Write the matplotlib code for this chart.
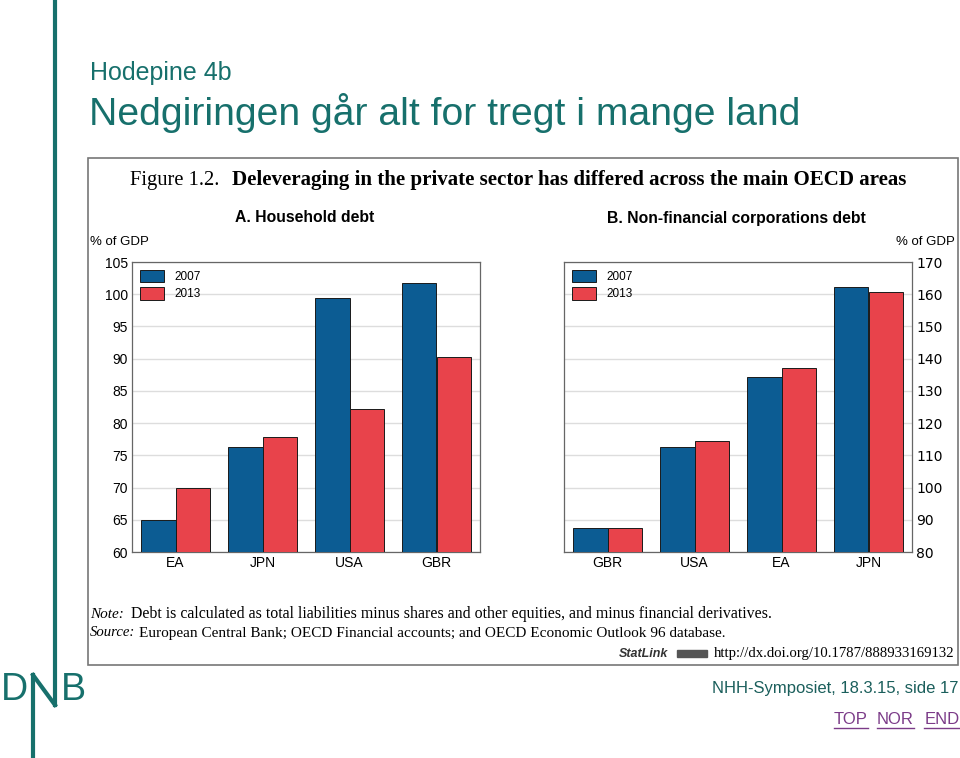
import numpy as np
import matplotlib
matplotlib.use("Agg")
import matplotlib.pyplot as plt
from matplotlib.lines import Line2D
from matplotlib.patches import Rectangle

# data
years = ["2007", "2013"]
hh_countries = ["EA", "JPN", "USA", "GBR"]
hh_2007 = [64.9, 76.3, 99.4, 101.8]
hh_2013 = [69.9, 77.9, 82.2, 90.2]
nfc_countries = ["GBR", "USA", "EA", "JPN"]
nfc_2007 = [87.3, 112.6, 134.4, 162.2]
nfc_2013 = [87.3, 114.3, 137.1, 160.8]
hh_ticks = [60, 65, 70, 75, 80, 85, 90, 95, 100, 105]
nfc_ticks = [80, 90, 100, 110, 120, 130, 140, 150, 160, 170]

W, H = 960, 758
BLUE = "#0c5c93"
RED = "#e8434b"
TEAL = "#17706c"
SANS = ["Liberation Sans", "DejaVu Sans"]
SERIF = ["Liberation Serif", "DejaVu Serif"]


def fx(x):
    return x / W


def fy(y):
    return 1 - y / H


fig = plt.figure(figsize=(W / 100, H / 100), dpi=100)

# slide header
fig.text(fx(90), fy(73), "Hodepine 4b", fontsize=18, color=TEAL,
         family=SANS, va="center", ha="left")
fig.text(fx(89), fy(113), "Nedgiringen går alt for tregt i mange land",
         fontsize=28.2, color=TEAL, family=SANS, va="center", ha="left")

# vertical teal rule and DNB logo
fig.add_artist(Line2D([fx(55), fx(55)], [fy(0), fy(705)], color=TEAL, lw=3))
fig.add_artist(Line2D([fx(33), fx(33)], [fy(675), fy(758)], color=TEAL, lw=3))
fig.add_artist(Line2D([fx(33), fx(55)], [fy(675), fy(705)], color=TEAL, lw=3))
fig.text(fx(14), fy(690), "D", fontsize=27, color=TEAL, family=SANS,
         ha="center", va="center")
fig.text(fx(73), fy(690), "B", fontsize=27, color=TEAL, family=SANS,
         ha="center", va="center")

# picture frame
fig.add_artist(Rectangle((fx(88), fy(665)), fx(958) - fx(88), fy(158) - fy(665),
                         fill=False, edgecolor="#777777", lw=1.2))

fig.text(fx(130), fy(180), "Figure 1.2.", fontsize=14.8, family=SERIF,
         va="center", ha="left")
fig.text(fx(232), fy(180),
         "Deleveraging in the private sector has differed across the main OECD areas",
         fontsize=15.1, family=SERIF, fontweight="bold", va="center", ha="left")

fig.text(fx(305), fy(218), "A. Household debt", fontsize=11.3, family=SANS,
         fontweight="bold", va="center", ha="center")
fig.text(fx(736), fy(218), "B. Non-financial corporations debt", fontsize=11.3,
         family=SANS, fontweight="bold", va="center", ha="center")
fig.text(fx(90), fy(242), "% of GDP", fontsize=9.5, family=SANS,
         va="center", ha="left")
fig.text(fx(955), fy(242), "% of GDP", fontsize=9.5, family=SANS,
         va="center", ha="right")


def panel(rect, cats, v07, v13, ticks, right=False):
    ax = fig.add_axes(rect)
    x = np.arange(len(cats))
    w = 0.4
    ax.bar(x - w / 2, v07, w, color=BLUE, edgecolor="#1a1a1a", lw=0.7,
           label=years[0], zorder=3)
    ax.bar(x + w / 2, v13, w, color=RED, edgecolor="#1a1a1a", lw=0.7,
           label=years[1], zorder=3)
    ax.set_xlim(-0.5, len(cats) - 0.5)
    ax.set_ylim(ticks[0], ticks[-1])
    ax.set_yticks(ticks)
    ax.set_xticks(x)
    ax.set_xticklabels(cats)
    ax.grid(axis="y", color="#dddddd", lw=1, zorder=0)
    for s in ax.spines.values():
        s.set_color("#666666")
        s.set_linewidth(0.9)
    ax.tick_params(length=0, labelsize=10, pad=3)
    for lab in ax.get_xticklabels() + ax.get_yticklabels():
        lab.set_family(SANS)
    if right:
        ax.yaxis.tick_right()
    ax.legend(loc="upper left", frameon=False, handlelength=2.0,
              handleheight=1.2, labelspacing=0.35, borderaxespad=0.3,
              handletextpad=0.9, prop={"family": SANS, "size": 8.5})
    return ax


panel([fx(132), fy(552), fx(480) - fx(132), fy(262) - fy(552)],
      hh_countries, hh_2007, hh_2013, hh_ticks)
panel([fx(564), fy(552), fx(912) - fx(564), fy(262) - fy(552)],
      nfc_countries, nfc_2007, nfc_2013, nfc_ticks, right=True)

# notes
fig.text(fx(90), fy(614), "Note:", fontsize=11, family=SERIF, style="italic",
         va="center", ha="left")
fig.text(fx(131), fy(614),
         "Debt is calculated as total liabilities minus shares and other equities, and minus financial derivatives.",
         fontsize=11.4, family=SERIF, va="center", ha="left")
fig.text(fx(90), fy(633), "Source:", fontsize=10.6, family=SERIF, style="italic",
         va="center", ha="left")
fig.text(fx(139), fy(633),
         "European Central Bank; OECD Financial accounts; and OECD Economic Outlook 96 database.",
         fontsize=11.0, family=SERIF, va="center", ha="left")
fig.text(fx(955), fy(653), "http://dx.doi.org/10.1787/888933169132",
         fontsize=10.6, family=SERIF, va="center", ha="right")
fig.add_artist(Rectangle((fx(677), fy(657)), fx(30), fy(650) - fy(657),
                         color="#555555"))
fig.text(fx(668), fy(654), "StatLink", fontsize=9, family=SANS, style="italic",
         fontweight="bold", color="#333333", va="center", ha="right")

# slide footer
fig.text(fx(958), fy(689), "NHH-Symposiet, 18.3.15, side 17", fontsize=12,
         color="#1b5f5c", family=SANS, va="center", ha="right")
PURPLE = "#7b3b88"
for word, x0, x1 in [("TOP", 834, 868), ("NOR", 877, 914), ("END", 924, 960)]:
    fig.text(fx((x0 + x1) / 2), fy(719), word, fontsize=12, color=PURPLE,
             family=SANS, va="center", ha="center")
    fig.add_artist(Line2D([fx(x0), fx(x1)], [fy(728), fy(728)], color=PURPLE,
                          lw=1))

fig.savefig("out.png", dpi=100)
